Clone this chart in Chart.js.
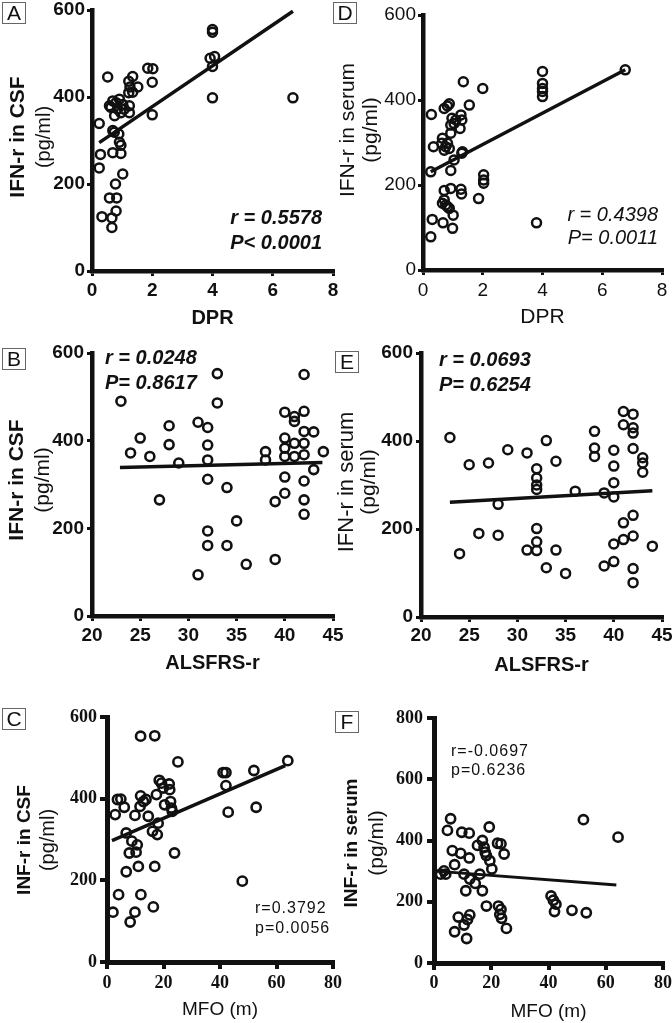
<!DOCTYPE html>
<html><head><meta charset="utf-8">
<script src="https://cdn.jsdelivr.net/npm/chart.js@4"></script>
<style>
html,body{margin:0;padding:0;background:#fff;}
body{width:672px;height:1023px;position:relative;overflow:hidden;font-family:"Liberation Sans",Arial,sans-serif;color:#111;}
.cv{position:absolute;}
.cv canvas{display:block;}
.lbl{position:absolute;border:1px solid #666;background:#fff;font-size:21px;line-height:20px;width:22px;height:20px;text-align:center;}
.yt{position:absolute;white-space:nowrap;transform:translate(-50%,-50%) rotate(-90deg);}
.ann{position:absolute;white-space:nowrap;}
</style></head><body>
<script>
// ---------- Panel A: DPR vs IFN-r in CSF ----------
const dprA = [0.52,0.24,0.28,0.24,0.33,0.66,0.66,0.58,0.82,0.78,0.80,0.69,0.96,1.02,0.96,0.91,0.69,0.74,0.89,0.58,0.69,0.80,0.91,1.02,0.85,0.75,0.96,0.63,1.07,1.24,1.24,1.22,1.26,1.35,1.35,1.52,1.22,1.85,2.02,2.00,2.00,4.0,4.0,3.92,4.07,4.0,4.0,6.67];
const csfA = [446,339,268,237,125,122,100,168,168,200,138,272,270,223,289,296,323,319,315,380,391,387,395,383,372,357,364,376,372,380,364,436,423,447,411,423,410,466,465,434,359,555,549,489,493,470,398,398];
const fitA_x = [0.24, 6.67];
const fitA_y = [295, 597];

// ---------- Panel D: DPR vs IFN-r in serum ----------
const dprD = [0.28,0.35,0.26,0.31,0.26,0.67,0.63,0.65,0.71,0.82,0.88,0.76,0.88,0.82,0.71,0.93,0.93,0.97,1.04,1.10,1.27,1.30,1.24,1.32,1.30,1.04,0.93,0.71,0.71,0.65,0.76,0.82,0.93,0.88,1.01,0.99,1.27,1.29,1.35,1.55,2.0,2.03,2.03,2.03,1.86,4.0,4.0,4.0,4.0,4.0,3.8,6.77];
const serumD = [366,290,231,119,78,111,298,310,380,386,391,290,286,298,282,322,341,357,345,353,365,353,333,278,275,259,234,187,165,157,153,149,192,145,129,98,190,179,443,388,427,224,212,204,168,467,439,427,420,408,111,471];
const fitD_x = [0.26, 6.77];
const fitD_y = [231, 471];

// ---------- Panel B: ALSFRS-r vs IFN-r in CSF ----------
const alsB = [23,24,25,26,27,28,28,29,31,31,32,32,32,32,32,32,33,33,34,34,35,36,38,38,39,39,40,40,40,40,40,40,41,41,41,41,42,42,42,42,42,42,42,42,43,43,44];
const csfB = [490,372,406,364,265,434,391,349,442,94,430,390,356,312,194,161,553,486,293,161,217,118,375,356,261,129,465,406,383,364,317,280,455,444,394,364,551,467,421,394,368,308,265,232,420,334,375];
const fitB_x = [22.9, 43.9];
const fitB_y = [339, 350];

// ---------- Panel E: ALSFRS-r vs IFN-r in serum ----------
const alsE = [23,24,25,26,27,28,28,29,31,31,32,32,32,32,32,32,32,33,33,34,34,35,36,38,38,38,39,39,40,40,40,40,40,40,41,41,41,41,42,42,42,42,42,42,42,42,43,43,43,44];
const serumE = [408,144,346,190,350,256,186,380,373,152,337,316,300,290,201,171,151,401,112,354,152,99,286,422,384,365,282,116,379,343,305,273,166,126,467,437,214,176,461,430,418,383,231,184,110,78,362,350,329,161];
const fitE_x = [23, 44];
const fitE_y = [261, 287];

// ---------- Panel C: MFO vs INF-r in CSF ----------
const mfoC = [2.1,2.9,4.1,3.7,4.9,6.1,6.8,6.8,8.2,7.9,8.8,9.9,9.9,10.3,10.7,11.1,11.7,11.9,11.9,12.0,12.9,13.8,14.6,16.1,16.4,16.9,16.9,17.5,17.8,18.1,18.5,19.3,19.9,20.4,22.0,22.2,22.5,22.8,23.1,23.9,25.1,41.1,42.1,42.1,42.9,47.9,52.0,52.8,64.0];
const csfC = [122,361,165,398,399,379,316,221,98,267,296,122,359,269,287,234,381,407,553,165,393,398,357,320,135,234,554,410,312,340,445,438,426,385,436,422,393,377,369,267,490,464,464,432,367,198,469,379,493];
const fitC_x = [1.75, 63.1];
const fitC_y = [297, 481];

// ---------- Panel F: MFO vs INF-r in serum ----------
const mfoF = [2.3,3.5,4.1,5.8,4.7,6.4,7.2,7.2,8.5,9.3,9.7,10.5,10.5,11.1,11.4,11.7,12.3,12.3,12.5,12.5,14.4,16.0,15.2,16.9,16.9,17.5,17.9,18.3,18.3,19.3,19.5,20.2,22.2,22.5,23.0,23.4,23.6,23.4,24.5,25.3,40.9,41.7,42.6,42.1,48.2,52.2,53.2,64.3];
const serumF = [290,301,290,471,433,367,321,102,150,358,427,290,124,236,80,142,343,424,157,274,260,290,384,400,236,378,362,351,186,444,334,307,391,186,159,389,146,175,356,113,219,205,192,168,172,468,164,411];
const fitF_x = [0.6, 63.7];
const fitF_y = [300, 255];

// ---------- tick / axis labels ----------
const xTitles = {A:'DPR', D:'DPR', B:'ALSFRS-r', E:'ALSFRS-r', C:'MFO (m)', F:'MFO (m)'};
const yTitles = {A:['IFN-r in CSF','(pg/ml)'], D:['IFN-r in serum','(pg/ml)'], B:['IFN-r in CSF','(pg/ml)'], E:['IFN-r in serum','(pg/ml)'], C:['INF-r in CSF','(pg/ml)'], F:['INF-r in serum','(pg/ml)']};
const stats = {A:['r = 0.5578','P< 0.0001'], D:['r = 0.4398','P= 0.0011'], B:['r = 0.0248','P= 0.8617'], E:['r = 0.0693','P= 0.6254'], C:['r=0.3792','p=0.0056'], F:['r=-0.0697','p=0.6236']};

const INK = '#111';
const SANS = 'Liberation Sans, Arial, sans-serif';
const SERIF = 'Liberation Serif, Times New Roman, serif';

function addPanel(o) {
  const wrap = document.createElement('div');
  wrap.className = 'cv';
  wrap.style.left = o.cv.left + 'px';
  wrap.style.top = o.cv.top + 'px';
  const c = document.createElement('canvas');
  c.width = o.cv.w; c.height = o.cv.h;
  c.style.width = o.cv.w + 'px'; c.style.height = o.cv.h + 'px';
  wrap.appendChild(c);
  document.body.appendChild(wrap);

  const yW = o.ca.l - o.cv.left;
  const padR = o.cv.left + o.cv.w - o.ca.r;
  const padT = o.ca.t - o.cv.top;
  const xH = o.cv.top + o.cv.h - o.ca.b;
  const tLH = o.xTitleFont.size * 1.2;
  const pb = o.cv.top + o.cv.h - o.xTitleY - tLH / 2;

  new Chart(c, {
    type: 'scatter',
    data: {
      datasets: [
        {
          data: o.xs.map((x, i) => ({x: x, y: o.ys[i]})),
          pointStyle: 'circle', pointRadius: o.pr, pointBorderWidth: o.pbw,
          pointBorderColor: INK, borderColor: INK,
          pointBackgroundColor: 'rgba(0,0,0,0)', backgroundColor: 'rgba(0,0,0,0)',
          showLine: false, clip: false
        },
        {
          data: o.fx.map((x, i) => ({x: x, y: o.fy[i]})),
          showLine: true, borderColor: INK, borderWidth: o.lw, pointRadius: 0,
          fill: false, clip: false
        }
      ]
    },
    options: {
      responsive: false, animation: false, devicePixelRatio: 1, events: [],
      layout: {padding: {left: 0, right: padR, top: padT, bottom: 0}},
      plugins: {legend: {display: false}, tooltip: {enabled: false}},
      scales: {
        x: {
          type: 'linear', min: o.xmin, max: o.xmax,
          ticks: {stepSize: o.xstep, font: o.tickFont, color: INK, padding: o.xpad, maxRotation: 0, autoSkip: false},
          grid: {display: true, drawOnChartArea: false, drawTicks: true, tickLength: o.tl, color: INK, lineWidth: o.tw},
          border: {display: true, color: INK, width: o.aw},
          title: {display: true, text: xTitles[o.key], font: o.xTitleFont, color: INK, padding: {top: 0, bottom: pb}},
          afterFit: s => { s.height = xH; s.paddingLeft = 0; s.paddingRight = 0; }
        },
        y: {
          type: 'linear', min: 0, max: o.ymax,
          ticks: {stepSize: o.ystep, font: o.tickFont, color: INK, padding: o.ypad, autoSkip: false},
          grid: {display: true, drawOnChartArea: false, drawTicks: true, tickLength: o.tl, color: INK, lineWidth: o.tw},
          border: {display: true, color: INK, width: o.aw},
          afterFit: s => { s.width = yW; s.paddingTop = 0; s.paddingBottom = 0; }
        }
      }
    }
  });

  // panel letter
  const L = document.createElement('div');
  L.className = 'lbl'; L.textContent = o.key;
  L.style.left = o.box[0] + 'px'; L.style.top = o.box[1] + 'px';
  document.body.appendChild(L);

  // y-axis title (two lines)
  o.yt.forEach((t, i) => {
    const d = document.createElement('div');
    d.className = 'yt'; d.textContent = yTitles[o.key][i];
    d.style.left = t.x + 'px'; d.style.top = o.ytY + 'px';
    d.style.font = t.font;
    document.body.appendChild(d);
  });

  // statistics annotation
  const a = document.createElement('div');
  a.className = 'ann';
  a.innerHTML = stats[o.key][0] + '<br>' + stats[o.key][1];
  Object.assign(a.style, o.annStyle);
  document.body.appendChild(a);
}

const boldSans = s => ({family: SANS, weight: 'bold', size: s});
const regSans = s => ({family: SANS, weight: 'normal', size: s});
const boldSerif = s => ({family: SERIF, weight: 'bold', size: s});

addPanel({key:'A', cv:{left:0, top:0, w:345, h:340}, ca:{l:92, r:333, t:10, b:271},
  xs:dprA, ys:csfA, fx:fitA_x, fy:fitA_y, xmin:0, xmax:8, xstep:2, ymax:600, ystep:200,
  tickFont:boldSans(19), xTitleFont:boldSans(20), xTitleY:318, tl:5, tw:3, aw:4.5, xpad:3, ypad:2,
  pr:4.5, pbw:2.5, lw:3.5, box:[2,2],
  yt:[{x:17, font:'bold 21px Liberation Sans, Arial, sans-serif'},{x:43, font:'normal 20px Liberation Sans, Arial, sans-serif'}], ytY:137,
  annStyle:{right:'350px', top:'205px', textAlign:'right', font:'italic bold 20px/25px Liberation Sans, Arial, sans-serif'}});

addPanel({key:'D', cv:{left:336, top:0, w:336, h:340}, ca:{l:423, r:662, t:15, b:270},
  xs:dprD, ys:serumD, fx:fitD_x, fy:fitD_y, xmin:0, xmax:8, xstep:2, ymax:600, ystep:200,
  tickFont:regSans(19), xTitleFont:regSans(21), xTitleY:317, tl:5, tw:3, aw:4.5, xpad:4, ypad:2,
  pr:4.5, pbw:2.5, lw:3.5, box:[333,2],
  yt:[{x:347, font:'normal 21px Liberation Sans, Arial, sans-serif'},{x:370, font:'normal 21px Liberation Sans, Arial, sans-serif'}], ytY:130,
  annStyle:{right:'14px', top:'203px', textAlign:'right', font:'italic normal 20px/23px Liberation Sans, Arial, sans-serif'}});

addPanel({key:'B', cv:{left:0, top:335, w:345, h:345}, ca:{l:92, r:333, t:353, b:616},
  xs:alsB, ys:csfB, fx:fitB_x, fy:fitB_y, xmin:20, xmax:45, xstep:5, ymax:600, ystep:200,
  tickFont:boldSans(19), xTitleFont:boldSans(20), xTitleY:663, tl:5, tw:3, aw:4.5, xpad:3, ypad:3,
  pr:4.5, pbw:2.6, lw:3.5, box:[2,348],
  yt:[{x:16, font:'bold 21px Liberation Sans, Arial, sans-serif'},{x:42, font:'normal 21px Liberation Sans, Arial, sans-serif'}], ytY:480,
  annStyle:{left:'105px', top:'345px', font:'italic bold 20px/25px Liberation Sans, Arial, sans-serif'}});

addPanel({key:'E', cv:{left:336, top:335, w:336, h:345}, ca:{l:421, r:662, t:353, b:617},
  xs:alsE, ys:serumE, fx:fitE_x, fy:fitE_y, xmin:20, xmax:45, xstep:5, ymax:600, ystep:200,
  tickFont:boldSans(19), xTitleFont:boldSans(20), xTitleY:665, tl:5, tw:3, aw:4.5, xpad:2, ypad:3,
  pr:4.5, pbw:2.5, lw:3.5, box:[335,351],
  yt:[{x:346, font:'normal 22px Liberation Sans, Arial, sans-serif'},{x:368, font:'normal 21px Liberation Sans, Arial, sans-serif'}], ytY:482,
  annStyle:{left:'439px', top:'347px', font:'italic bold 20px/25px Liberation Sans, Arial, sans-serif'}});

addPanel({key:'C', cv:{left:0, top:690, w:345, h:333}, ca:{l:107, r:333, t:717, b:962},
  xs:mfoC, ys:csfC, fx:fitC_x, fy:fitC_y, xmin:0, xmax:80, xstep:20, ymax:600, ystep:200,
  tickFont:boldSerif(18), xTitleFont:regSans(19), xTitleY:1010, tl:7, tw:4, aw:5, xpad:4, ypad:3,
  pr:4.6, pbw:2.6, lw:3.5, box:[2,708],
  yt:[{x:24, font:'bold 19px Liberation Sans, Arial, sans-serif'},{x:47, font:'normal 20px Liberation Sans, Arial, sans-serif'}], ytY:840,
  annStyle:{left:'255px', top:'898px', font:'normal 16px/20px Liberation Sans, Arial, sans-serif', letterSpacing:'1px'}});

addPanel({key:'F', cv:{left:336, top:690, w:336, h:333}, ca:{l:434, r:663, t:718, b:963},
  xs:mfoF, ys:serumF, fx:fitF_x, fy:fitF_y, xmin:0, xmax:80, xstep:20, ymax:800, ystep:200,
  tickFont:boldSerif(18), xTitleFont:regSans(19), xTitleY:1012, tl:7, tw:4, aw:5, xpad:3, ypad:4,
  pr:4.6, pbw:2.6, lw:3, box:[335,711],
  yt:[{x:351, font:'bold 19px Liberation Sans, Arial, sans-serif'},{x:376, font:'normal 21px Liberation Sans, Arial, sans-serif'}], ytY:843,
  annStyle:{left:'451px', top:'741px', font:'normal 16px/19px Liberation Sans, Arial, sans-serif', letterSpacing:'1px'}});
</script>
</body></html>
